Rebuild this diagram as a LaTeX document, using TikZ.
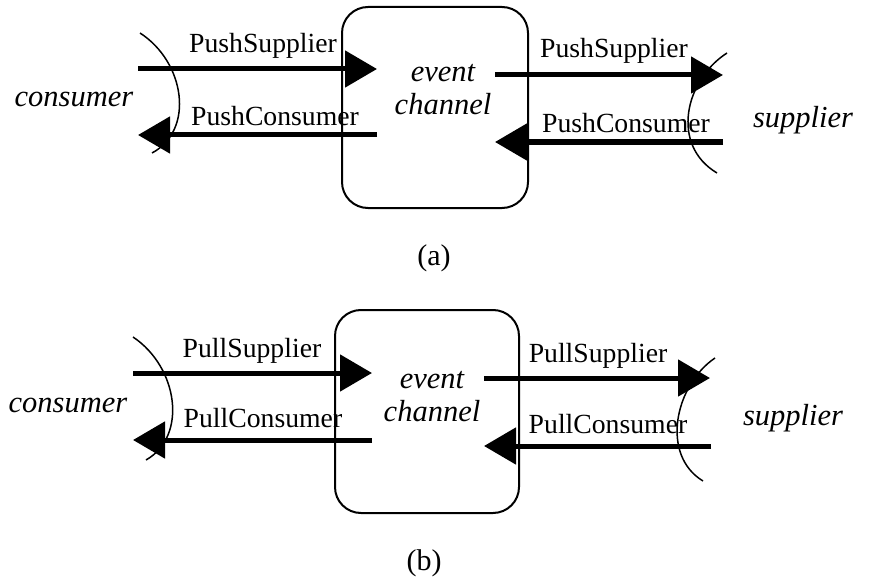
\documentclass[tikz,border=0pt]{standalone}
\usepackage{fontspec}
\setmainfont{Liberation Serif}
\usetikzlibrary{arrows.meta}
\tikzset{
  flow/.style={line width=5pt, -{Triangle[length=32pt,width=36pt]}},
  port/.style={line width=1.5pt},
  chanbox/.style={draw, line width=2pt, rounded corners=26pt, inner sep=0pt},
  iface/.style={anchor=base, inner sep=0pt, font=\fontsize{27.7}{30}\selectfont},
  role/.style={anchor=base, inner sep=0pt, font=\fontsize{30.5}{33}\selectfont\itshape},
  caption/.style={anchor=base, inner sep=0pt, font=\fontsize{30}{33}\selectfont}
}
\begin{document}
\begin{tikzpicture}[x=1pt,y=-1pt]
  \path[fill=white] (0,0) rectangle (883,583);
  \useasboundingbox (0,0) rectangle (883,583);

  % ---------- (a) push model ----------
  \node[chanbox, minimum width=186pt, minimum height=201pt] (boxA) at (435,107.5) {};
  \node[role] (evA) at (443,82) {event};
  \node[role] (chA) at (443,115) {channel};
  \node[role] (conA) at (74,107) {consumer};
  \node[role] (supA) at (803,128) {supplier};
  \node[iface] (psLA) at (263,53) {PushSupplier};
  \node[iface] (pcLA) at (275,125) {PushConsumer};
  \node[iface] (psRA) at (614,58) {PushSupplier};
  \node[iface] (pcRA) at (626,132) {PushConsumer};
  \node[caption] (capA) at (434,265) {(a)};

  \coordinate (a1s) at (138,69);  \coordinate (a1e) at (377,69);
  \coordinate (a2s) at (377,135); \coordinate (a2e) at (138,135);
  \coordinate (a3s) at (495,75);  \coordinate (a3e) at (723,75);
  \coordinate (a4s) at (723,142); \coordinate (a4e) at (495,142);
  \draw[flow] (a1s) -- (a1e);
  \draw[flow] (a2s) -- (a2e);
  \draw[flow] (a3s) -- (a3e);
  \draw[flow] (a4s) -- (a4e);

  \coordinate (cLA1) at (140,33);  \coordinate (cLA2) at (152,153);
  \coordinate (cRA1) at (727,53);  \coordinate (cRA2) at (717,173);
  \draw[port] (cLA1) .. controls (185,62) and (195,130) .. (cLA2);
  \draw[port] (cRA1) .. controls (685,80) and (670,145) .. (cRA2);

  % ---------- (b) pull model ----------
  \node[chanbox, minimum width=184pt, minimum height=203pt] (boxB) at (427,411.5) {};
  \node[role] (evB) at (432,388) {event};
  \node[role] (chB) at (432,421) {channel};
  \node[role] (conB) at (68,412) {consumer};
  \node[role] (supB) at (793,425) {supplier};
  \node[iface] (psLB) at (252,357) {PullSupplier};
  \node[iface] (pcLB) at (263,427) {PullConsumer};
  \node[iface] (psRB) at (598,362) {PullSupplier};
  \node[iface] (pcRB) at (608,433) {PullConsumer};
  \node[caption] (capB) at (424,570) {(b)};

  \coordinate (b1s) at (133,373); \coordinate (b1e) at (372,373);
  \coordinate (b2s) at (372,440); \coordinate (b2e) at (133,440);
  \coordinate (b3s) at (484,378); \coordinate (b3e) at (710,378);
  \coordinate (b4s) at (711,446); \coordinate (b4e) at (484,446);
  \draw[flow] (b1s) -- (b1e);
  \draw[flow] (b2s) -- (b2e);
  \draw[flow] (b3s) -- (b3e);
  \draw[flow] (b4s) -- (b4e);

  \coordinate (cLB1) at (133,337); \coordinate (cLB2) at (146,460);
  \coordinate (cRB1) at (715,358); \coordinate (cRB2) at (703,481);
  \draw[port] (cLB1) .. controls (178,367) and (188,436) .. (cLB2);
  \draw[port] (cRB1) .. controls (675,385) and (660,455) .. (cRB2);
\end{tikzpicture}
\end{document}
